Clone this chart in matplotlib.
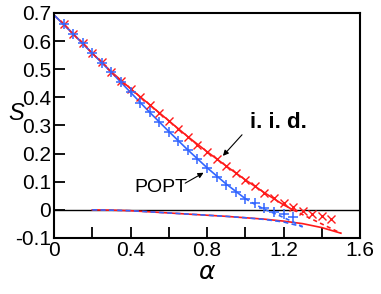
import matplotlib
matplotlib.use('Agg')
import matplotlib.pyplot as plt
import numpy as np

plt.rcParams['font.family'] = ['Liberation Sans', 'DejaVu Sans']

# simulation points
a_iid = [0.05, 0.10, 0.15, 0.20, 0.25, 0.30, 0.35, 0.40, 0.45, 0.50, 0.55, 0.60, 0.65, 0.70, 0.75,
         0.80, 0.85, 0.90, 0.95, 1.00, 1.05, 1.10, 1.15, 1.20, 1.25, 1.30, 1.35, 1.40, 1.45]
s_iid = [0.662, 0.626, 0.593, 0.557, 0.524, 0.490, 0.458, 0.430, 0.403, 0.373, 0.345, 0.316, 0.286, 0.258, 0.231,
         0.205, 0.180, 0.155, 0.130, 0.107, 0.085, 0.060, 0.041, 0.026, 0.011, -0.003, -0.015, -0.022, -0.031]
a_popt = [0.05, 0.10, 0.15, 0.20, 0.25, 0.30, 0.35, 0.40, 0.45, 0.50, 0.55, 0.60, 0.65, 0.70, 0.75,
          0.80, 0.85, 0.90, 0.95, 1.00, 1.05, 1.10, 1.15, 1.20, 1.25]
s_popt = [0.662, 0.626, 0.592, 0.557, 0.523, 0.489, 0.454, 0.418, 0.381, 0.347, 0.314, 0.278, 0.245, 0.213, 0.180,
          0.149, 0.117, 0.088, 0.062, 0.038, 0.023, 0.006, -0.006, -0.015, -0.024]

# theory, upper branch (solid) and its unstable continuation (dashed)
a_iid_up = [0.0, 0.1, 0.2, 0.3, 0.4, 0.5, 0.6, 0.7, 0.8, 0.9, 1.0, 1.1, 1.2, 1.25]
s_iid_up = [0.693, 0.626, 0.557, 0.491, 0.431, 0.374, 0.317, 0.260, 0.207, 0.156, 0.107, 0.061, 0.018, 0.0]
a_iid_dash = [1.25, 1.3, 1.4, 1.5]
s_iid_dash = [0.0, -0.017, -0.050, -0.083]
a_popt_up = [0.0, 0.1, 0.2, 0.3, 0.4, 0.5, 0.6, 0.7, 0.8, 0.9, 1.0]
s_popt_up = [0.693, 0.626, 0.557, 0.489, 0.418, 0.347, 0.279, 0.213, 0.150, 0.092, 0.040]
a_popt_dash = [1.0, 1.05, 1.1, 1.15, 1.2, 1.25, 1.3]
s_popt_dash = [0.040, 0.020, 0.002, -0.012, -0.027, -0.043, -0.060]

# lower branch
a_iid_low = [0.2, 0.3, 0.4, 0.5, 0.6, 0.7, 0.8, 0.9, 1.0, 1.1, 1.2, 1.3, 1.4, 1.5]
s_iid_low = [0.0, -0.001, -0.003, -0.007, -0.011, -0.015, -0.019, -0.023, -0.028, -0.033, -0.040, -0.049, -0.063, -0.083]
a_popt_low = [0.2, 0.3, 0.4, 0.5, 0.6, 0.7, 0.8, 0.9, 1.0, 1.1, 1.2, 1.3]
s_popt_low = [0.0, -0.001, -0.003, -0.007, -0.011, -0.015, -0.019, -0.023, -0.028, -0.034, -0.043, -0.060]

red = '#ff1a1a'
blue = '#3366ff'

fig = plt.figure(figsize=(3.81, 2.94), dpi=100)
ax = fig.add_axes([0.1417, 0.1905, 0.8033, 0.7653])

ax.axhline(0, color='black', lw=1.0)

ax.plot(a_iid_up, s_iid_up, color=red, lw=1.2)
ax.plot(a_iid_dash, s_iid_dash, color=red, lw=1.2, ls=(0, (2.5, 2)))
ax.plot(a_iid_low, s_iid_low, color=red, lw=1.2)
ax.plot(a_popt_up, s_popt_up, color=blue, lw=1.2)
ax.plot(a_popt_dash, s_popt_dash, color=blue, lw=1.2, ls=(0, (2.5, 2)))
ax.plot(a_popt_low, s_popt_low, color=blue, lw=1.2, ls=(0, (3, 2)))

ax.plot(a_iid, s_iid, 'x', color=red, ms=6, mew=1.0)
ax.plot(a_popt, s_popt, '+', color=blue, ms=7, mew=1.1)

# labels + arrows
ax.text(1.173, 0.309, 'i. i. d.', ha='center', va='center', fontsize=16, fontweight='bold')
ax.annotate('', xy=(0.883, 0.192), xytext=(0.983, 0.267),
            arrowprops=dict(arrowstyle='-|>', color='black', lw=0.8, shrinkA=0, shrinkB=0,
                            mutation_scale=8))
ax.text(0.558, 0.078, 'POPT', ha='center', va='center', fontsize=14)
ax.annotate('', xy=(0.782, 0.132), xytext=(0.686, 0.095),
            arrowprops=dict(arrowstyle='-|>', color='black', lw=0.8, shrinkA=0, shrinkB=0,
                            mutation_scale=8))

ax.set_xlim(0, 1.6)
ax.set_ylim(-0.1, 0.7)
xt = np.arange(0, 1.61, 0.2)
ax.set_xticks(xt)
ax.set_xticklabels(['0', '', '0.4', '', '0.8', '', '1.2', '', '1.6'])
yt = np.arange(-0.1, 0.71, 0.1)
ax.set_yticks(yt)
ax.set_yticklabels(['-0.1', '0', '0.1', '0.2', '0.3', '0.4', '0.5', '0.6', '0.7'])
ax.tick_params(direction='in', length=8, width=1.3, labelsize=15, pad=2)
for sp in ax.spines.values():
    sp.set_linewidth(1.5)

ax.set_xlabel(r'$\alpha$', fontsize=18, labelpad=0)
ax.set_ylabel('S', fontsize=17, style='italic', rotation=0)
ax.yaxis.set_label_coords(-0.125, 0.5)

plt.savefig('out.png', dpi=100)
